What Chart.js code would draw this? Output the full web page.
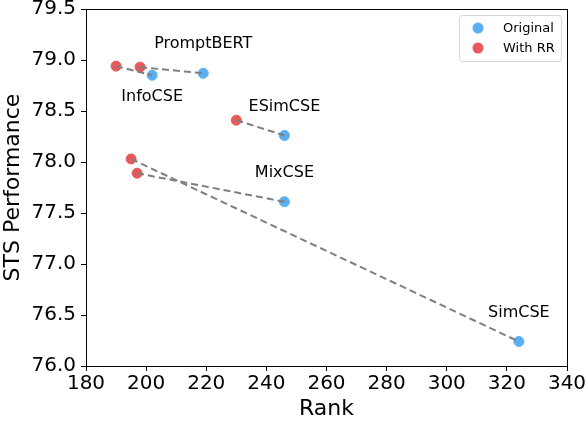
<!DOCTYPE html>
<html>
<head>
<meta charset="utf-8">
<script src="https://cdn.jsdelivr.net/npm/chart.js@4.4.1/dist/chart.umd.min.js"></script>
<style>
    body { margin: 0; background: #ffffff; }
    #wrap { width: 586px; height: 422px; }
</style>
</head>
<body>
<div id="wrap"><canvas id="rank-canvas" width="586" height="422"></canvas></div>
<script>
/* ### Data ### */

const METHODS = ['SimCSE', 'MixCSE', 'ESimCSE', 'PromptBERT', 'InfoCSE'];
const ORIGINAL_RANK = [324, 246, 246, 219, 202];
const ORIGINAL_STS = [76.24, 77.61, 78.26, 78.87, 78.85];
const RR_RANK = [195, 197, 230, 198, 190];
const RR_STS = [78.03, 77.89, 78.41, 78.93, 78.94];
const LABEL_BELOW = [false, false, false, false, true];

const X_TICKS = [180, 200, 220, 240, 260, 280, 300, 320, 340];
const Y_TICKS = [76.0, 76.5, 77.0, 77.5, 78.0, 78.5, 79.0, 79.5];

/* ### Style ### */

const BLUE = '#5aaff0';
const RED = '#e85a5a';
const FONT = "'DejaVu Sans', sans-serif";

/* ### Plugins ### */

// Box around the plot, method names and legend
const decorations = {
    id: 'decorations',
    afterDraw(chart) {
        const ctx = chart.ctx;
        const area = chart.chartArea;
        const xs = chart.scales.x;
        const ys = chart.scales.y;

        ctx.save();
        ctx.strokeStyle = '#000000';
        ctx.lineWidth = 1;
        ctx.strokeRect(area.left + 0.5, area.top + 0.5, area.right - area.left, area.bottom - area.top);

        // Method names
        ctx.fillStyle = '#000000';
        ctx.font = '16px ' + FONT;
        ctx.textAlign = 'center';
        ctx.textBaseline = 'middle';
        METHODS.forEach((name, i) => {
            let px = xs.getPixelForValue(ORIGINAL_RANK[i]);
            let py = ys.getPixelForValue(ORIGINAL_STS[i]);
            py += LABEL_BELOW[i] ? 22 : -29;
            ctx.fillText(name, px, py);
        });

        // Legend
        const lx = area.right - 108, ly = area.top + 6, lw = 102, lh = 46;
        ctx.beginPath();
        ctx.roundRect(lx + 0.5, ly + 0.5, lw, lh, 3);
        ctx.fillStyle = 'rgba(255,255,255,0.8)';
        ctx.fill();
        ctx.strokeStyle = '#d6d6d6';
        ctx.stroke();

        const entries = [['Original', BLUE], ['With RR', RED]];
        ctx.font = '13px ' + FONT;
        ctx.textAlign = 'left';
        entries.forEach((e, i) => {
            let cy = ly + 13 + i * 20;
            ctx.beginPath();
            ctx.arc(lx + 19, cy, 5.5, 0, Math.PI * 2);
            ctx.fillStyle = e[1];
            ctx.fill();
            ctx.fillStyle = '#000000';
            ctx.fillText(e[0], lx + 44, cy + 1);
        });
        ctx.restore();
    }
};

/* ### Chart ### */

function pairDatasets() {
    return METHODS.map((name, i) => ({
        type: 'line',
        label: name,
        data: [{ x: RR_RANK[i], y: RR_STS[i] }, { x: ORIGINAL_RANK[i], y: ORIGINAL_STS[i] }],
        borderColor: '#7f7f7f',
        borderWidth: 2,
        borderDash: [7, 4],
        pointRadius: 0,
        fill: false,
        order: 0
    }));
}

function axisTicks(values, fmt) {
    return function (scale) {
        scale.ticks = values.map(v => ({ value: v, label: fmt(v) }));
    };
}

const rankChart = new Chart(document.getElementById('rank-canvas').getContext('2d'), {
    type: 'scatter',
    data: {
        datasets: pairDatasets().concat([
            {
                label: 'Original',
                data: ORIGINAL_RANK.map((r, i) => ({ x: r, y: ORIGINAL_STS[i] })),
                backgroundColor: BLUE,
                borderColor: BLUE,
                pointRadius: 5,
                order: 1
            },
            {
                label: 'With RR',
                data: RR_RANK.map((r, i) => ({ x: r, y: RR_STS[i] })),
                backgroundColor: RED,
                borderColor: RED,
                pointRadius: 5,
                order: 1
            }
        ])
    },
    options: {
        responsive: false,
        animation: false,
        devicePixelRatio: 1,
        layout: { padding: { top: 9, right: 19, left: 0, bottom: 0 } },
        plugins: {
            legend: { display: false },
            tooltip: { enabled: false }
        },
        scales: {
            x: {
                type: 'linear',
                min: 180,
                max: 340,
                afterBuildTicks: axisTicks(X_TICKS, v => String(v)),
                afterFit: s => { s.height = 56; s.paddingLeft = 0; s.paddingRight = 0; },
                ticks: { color: '#000000', font: { family: FONT, size: 20 }, padding: 1, maxRotation: 0 },
                grid: { drawOnChartArea: false, drawTicks: true, tickLength: 5, color: '#000000' },
                border: { display: true, color: '#000000' },
                title: { display: true, text: 'Rank', color: '#000000', font: { family: FONT, size: 22 }, padding: { top: 4, bottom: 0 } }
            },
            y: {
                type: 'linear',
                min: 76,
                max: 79.5,
                afterBuildTicks: axisTicks(Y_TICKS, v => v.toFixed(1)),
                afterFit: s => { s.width = 86; s.paddingTop = 0; s.paddingBottom = 0; },
                ticks: { color: '#000000', font: { family: FONT, size: 20 }, padding: 5 },
                grid: { drawOnChartArea: false, drawTicks: true, tickLength: 5, color: '#000000' },
                border: { display: true, color: '#000000' },
                title: { display: true, text: 'STS Performance', color: '#000000', font: { family: FONT, size: 22 }, padding: 0 }
            }
        }
    },
    plugins: [decorations]
});
</script>
</body>
</html>
